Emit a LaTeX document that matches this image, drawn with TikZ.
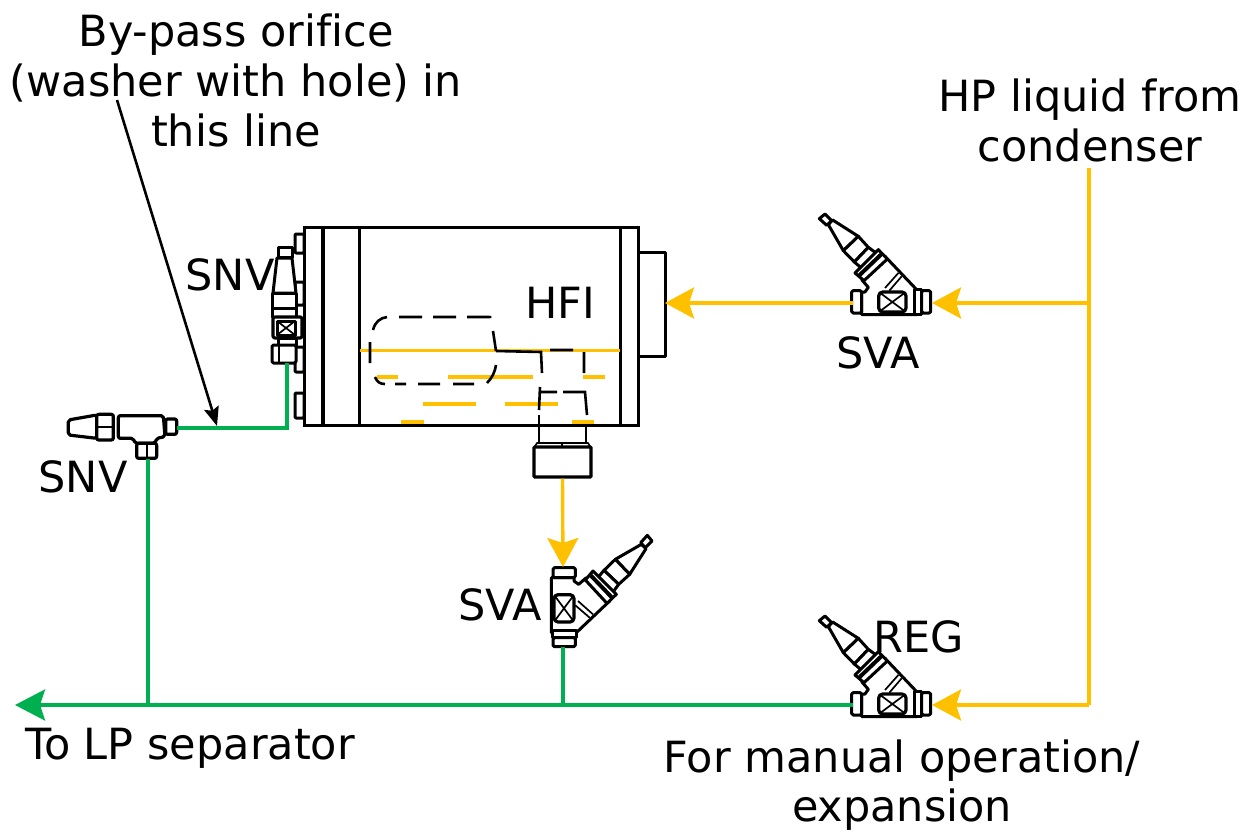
\documentclass[tikz,border=0pt]{standalone}
\usepackage{fontspec}
\setmainfont[Ligatures=NoCommon]{DejaVu Sans}
\usetikzlibrary{arrows.meta}
\definecolor{hp}{HTML}{FFC000}
\definecolor{lp}{HTML}{00B050}
\tikzset{
  x=1pt,y=-1pt,
  lbl/.style={anchor=base,inner sep=0pt,font=\fontsize{43}{50}\selectfont,text=black},
  part/.style={draw=black,line width=3pt,line join=round,fill=white},
  thinpart/.style={draw=black,line width=1.7pt,line join=round},
  heavy/.style={draw=black,line width=4pt},
  hpline/.style={draw=hp,line width=3.4pt},
  lpline/.style={draw=lp,line width=3.4pt},
  hparrow/.style={hpline,-{Stealth[length=29pt,width=31pt,inset=5pt]}},
  lparrow/.style={lpline,-{Stealth[length=30pt,width=31pt,inset=5pt]}},
  hpdash/.style={draw=hp,line width=3.2pt},
  hid/.style={draw=black,line width=2.6pt},
  bolt/.style={part,rounded corners=1pt}
}
\newcommand{\valveshape}[4]{% x,y,rotation,name
  \begin{scope}[shift={(#1,#2)},rotate=#3,scale=1/3,shift={(-246,-295)}]
    % stem
    \draw[part] (28,42)--(45,28)--(65,48)--(50,62)--cycle;
    \draw[part] (55,60)--(68,46)--(145,95)--(100,138)--cycle;
    \draw[part] (145,95)--(175,128)--(133,172)--(100,138)--cycle;
    % neck
    \draw[part] (165,262)--(175,248)--(155,225)--(225,155)--(320,255)--(320,330)--(155,330)--(155,262)--cycle;
    \draw[part] (133,172)--(175,128)--(205,150)--(160,195)--cycle;
    % flange
    \draw[part] (135,205)--(205,135)--(232,163)--(162,228)--cycle;
    \draw[heavy] (148,212)--(218,145);
    \draw[thinpart] (225,250)--(265,205) (238,258)--(275,215);
    % caps
    \draw[part,rounded corners=1.5pt] (125,258) rectangle (155,325);
    \draw[part,rounded corners=1.5pt] (335,258) rectangle (362,325);
    \draw[part] (312,255) rectangle (335,328);
    % hand box
    \draw[part,rounded corners=4pt,line width=3.2pt] (206,262) rectangle (288,322);
    \draw[thinpart] (212,266)--(282,318) (212,318)--(282,266);
  \end{scope}
  \coordinate (#4-a) at (#1,#2);
}
\begin{document}
\begin{tikzpicture}
\useasboundingbox (0,0) rectangle (1254,832);
% HFI vessel
\draw[part] (638,252) rectangle (665,356);
\foreach \a/\b in {234/253,282/305,347/372,393/418}{
  \draw[bolt] (295,\a) rectangle (304,\b);
}
\node[draw=black,line width=3pt,fill=white,inner sep=0pt,minimum width=334pt,minimum height=198pt] (vessel) at (471,326) {};
\draw[line width=3.6pt] (323,227)--(323,425);
\draw[line width=3pt] (359,227)--(359,425) (620,227)--(620,425);
% orange level
\draw[hpline,line width=3pt] (360,350)--(620,350);
\foreach \y/\a/\b in {377/377/398,377/448/533,377/583/605,404/423/476,404/505/558,422/401/424,422/572/594}{
  \draw[hpdash] (\a,\y)--(\b,\y);
}
% hidden parts
\draw[hid] (373,330)..controls (375,322) and (380,318)..(387,317)
  (399,317)--(422,317) (433,317)--(456,317) (467,317)--(487,317)..controls (490,317) and (491,317)..(490,318)
  (493,331)--(496,351) (370,342)--(370,363)
  (375,377)..controls (377,382) and (380,384)..(385,384)
  (395,384)--(406,384) (418,384)--(440,384) (453,384)--(474,384)
  (487,383)..controls (492,378) and (495,372)..(496,365);
\draw[hid] (496,351)--(541,352)--(542,373) (550,350)--(573,350) (584,352)--(584,373)
  (540,387)--(539,410) (540,392)--(557,392) (563,392)--(585,392)--(587,415);
\draw[hid] (539,415)--(539,443) (586,427)--(586,443);
\node[draw=black,line width=3.4pt,fill=white,inner sep=0pt,minimum width=57pt,minimum height=30pt,rounded corners=1pt] (nut) at (562.5,462) {};
\draw[thinpart] (534,448)--(537,443)--(588,443)--(591,448);
\draw[line width=1.4pt] (562,443)--(562,448);
% vertical SNV on vessel
\draw[part] (278,247) rectangle (292,257);
\draw[part] (277,258)--(292,258)--(296,293)--(273,293)--cycle;
\draw[part] (272,293) rectangle (296,308);
\draw[part] (272,308) rectangle (296,317);
\draw[part,line width=3.2pt,rounded corners=2pt] (273,317) rectangle (302,338);
\draw[part] (277,321) rectangle (295,335);
\draw[thinpart] (277,321)--(295,335) (277,335)--(295,321);
\draw[part] (278,338) rectangle (296,345);
\draw[part,rounded corners=1.5pt] (272,345) rectangle (296,363);
\draw[thinpart] (279,345)--(279,363);
\coordinate (snvv-out) at (287,363);
% horizontal SNV
\begin{scope}[shift={(55,395)},scale=1/3]
  \draw[part,rounded corners=2pt,line width=3.2pt] (40,75)--(125,60)--(125,130)--(40,120)--cycle;
  \draw[part,rounded corners=2pt,line width=3.2pt] (125,58) rectangle (175,135);
  \draw[thinpart] (125,95)--(175,95);
  \draw[part,rounded corners=2pt,line width=3.2pt] (190,62)--(325,62)--(330,125)--(305,130)--(300,145)--(240,145)--(235,130)--(190,130)--cycle;
  \draw[part,rounded corners=2pt,line width=3.2pt] (332,72) rectangle (365,118);
  \draw[part,rounded corners=2pt,line width=3.2pt] (245,145) rectangle (305,190);
  \draw[thinpart] (275,145)--(275,190);
\end{scope}
\coordinate (snvh-r) at (177,428);
\coordinate (snvh-b) at (148,459);
% valves
\valveshape{892}{303}{0}{svatop}
\valveshape{892}{705}{0}{reg}
\valveshape{563}{608}{-90}{svabot}
% junction coordinates
\coordinate (hpsrc) at (1089,168);
\coordinate (j1) at (1089,303);
\coordinate (j2) at (1089,705);
\coordinate (svatop-in) at (932,303);
\coordinate (svatop-out) at (853,303);
\coordinate (vessel-in) at (665,303);
\coordinate (reg-in) at (932,705);
\coordinate (reg-out) at (853,705);
\coordinate (svabot-in) at (563,567);
\coordinate (svabot-out) at (563,647);
\coordinate (jb) at (563,705);
\coordinate (jl) at (148,705);
\coordinate (lpend) at (15,705);
\coordinate (bend) at (287,428);
\coordinate (orif) at (217,426);
% HP lines
\draw[hpline] (hpsrc)--(j2);
\draw[hparrow] (j1)--(svatop-in);
\draw[hparrow] (j2)--(reg-in);
\draw[hparrow] (svatop-out)--(vessel-in);
\draw[hparrow] (nut.south)--(svabot-in);
% LP lines
\draw[lparrow] (reg-out)--(lpend);
\draw[lpline] (svabot-out)--(jb);
\draw[lpline] (snvh-b)--(jl);
\draw[lpline] (snvv-out)--(bend)--(snvh-r);
% labels
\node[lbl] (t1) at (236,46.5) {By-pass orifice};
\node[lbl] (t2) at (236,96.5) {(washer with hole) in};
\node[lbl] (t3) at (236,146.5) {this line};
\coordinate (orifstart) at (117,100);
\draw[draw=black,line width=2.6pt,-{Stealth[length=19pt,width=15pt,inset=3pt]}] (orifstart)--(orif);
\node[lbl] (hp1) at (1090,111.5) {HP liquid from};
\node[lbl] (hp2) at (1090,161.5) {condenser};
\node[lbl] (s1) at (230,290.5) {SNV};
\node[lbl] (s2) at (83,492.5) {SNV};
\node[lbl] (hfi) at (560,318) {HFI};
\node[lbl] (v1) at (878,368.5) {SVA};
\node[lbl] (v2) at (500,620.5) {SVA};
\node[lbl] (rg) at (919,652.5) {REG};
\node[lbl] (lp) at (190,759.5) {To LP separator};
\node[lbl] (m1) at (902,772.5) {For manual operation/};
\node[lbl] (m2) at (902,821) {expansion};
\end{tikzpicture}
\end{document}
